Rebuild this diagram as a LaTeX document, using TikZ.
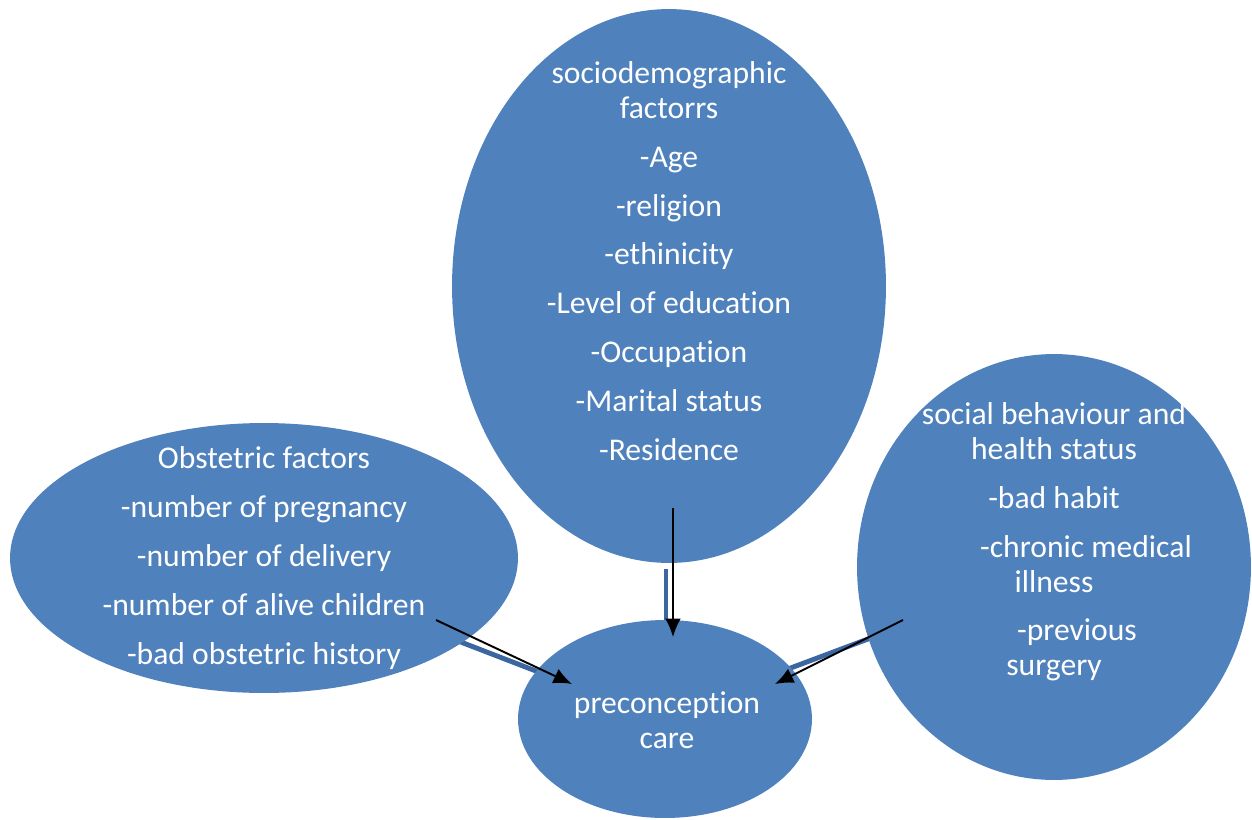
\documentclass[tikz,border=0pt]{standalone}
\usepackage{fontspec}
\setmainfont{Carlito}[Ligatures=NoCommon]
\usepackage{xcolor}
\definecolor{OvalBlue}{HTML}{4F81BD}
\definecolor{BarBlue}{HTML}{3B66A0}
\usepackage{tikz}
\usetikzlibrary{arrows.meta,shapes.geometric,backgrounds}

\begin{document}
\begin{tikzpicture}[x=0.02cm, y=-0.02cm, >={Latex[length=10.5pt,width=9pt]},
  oval/.style={ellipse, fill=OvalBlue, inner sep=0pt, outer sep=0pt},
  ovaltext/.style={text=white, align=center, font=\fontsize{18}{19.8}\selectfont},
  link/.style={->, line width=1.1pt},
  bar/.style={BarBlue, line width=2.8pt}]
  \useasboundingbox (0,0) rectangle (1252,819);
  \node[oval, minimum width=8.68cm, minimum height=11.08cm] (socio) at (669,286) {};
  \node[oval, minimum width=10.16cm, minimum height=5.4cm] (obst) at (264,558) {};
  \node[oval, minimum width=7.88cm, minimum height=8.52cm] (behav) at (1054,567) {};
  \node[oval, minimum width=5.88cm, minimum height=3.96cm] (care) at (665,719) {};
  \node[ovaltext] (sociotxt) at (669,261) {sociodemographic\\factorrs\\[8pt]-Age\\[8pt]-religion\\[8pt]-ethinicity\\[8pt]-Level of education\\[8pt]-Occupation\\[8pt]-Marital status\\[8pt]-Residence};
  \node[ovaltext] (obsttxt) at (264,558) {Obstetric factors\\[8pt]-number of pregnancy\\[8pt]-number of delivery\\[8pt]-number of alive children\\[8pt]-bad obstetric history};
  \node[ovaltext] (behavtxt) at (1054,542) {social behaviour and\\health status\\[8pt]-bad habit\\[8pt]\hspace*{1.28cm}-chronic medical\\illness\\[8pt]\hspace*{0.92cm}-previous\\surgery};
  \node[ovaltext] (caretxt) at (667,720) {preconception\\care};
  \coordinate (sociobar) at (666,569);
  \coordinate (carebar1) at (666,660);
  \coordinate (obstbar) at (440,634);
  \coordinate (carebar2) at (580,688);
  \coordinate (behavbar) at (900,627);
  \coordinate (carebar3) at (780,672);
  \begin{scope}[on background layer]
    \draw[bar] (sociobar) -- (carebar1);
    \draw[bar] (obstbar) -- (carebar2);
    \draw[bar] (behavbar) -- (carebar3);
  \end{scope}
  \coordinate (sociostart) at (673,508);
  \coordinate (socioend) at (673,637);
  \coordinate (obststart) at (436,620);
  \coordinate (obstend) at (572,684);
  \coordinate (behavstart) at (903,620);
  \coordinate (behavend) at (775,684);
  \draw[link] (sociostart) -- (socioend);
  \draw[link] (obststart) -- (obstend);
  \draw[link] (behavstart) -- (behavend);
\end{tikzpicture}
\end{document}
